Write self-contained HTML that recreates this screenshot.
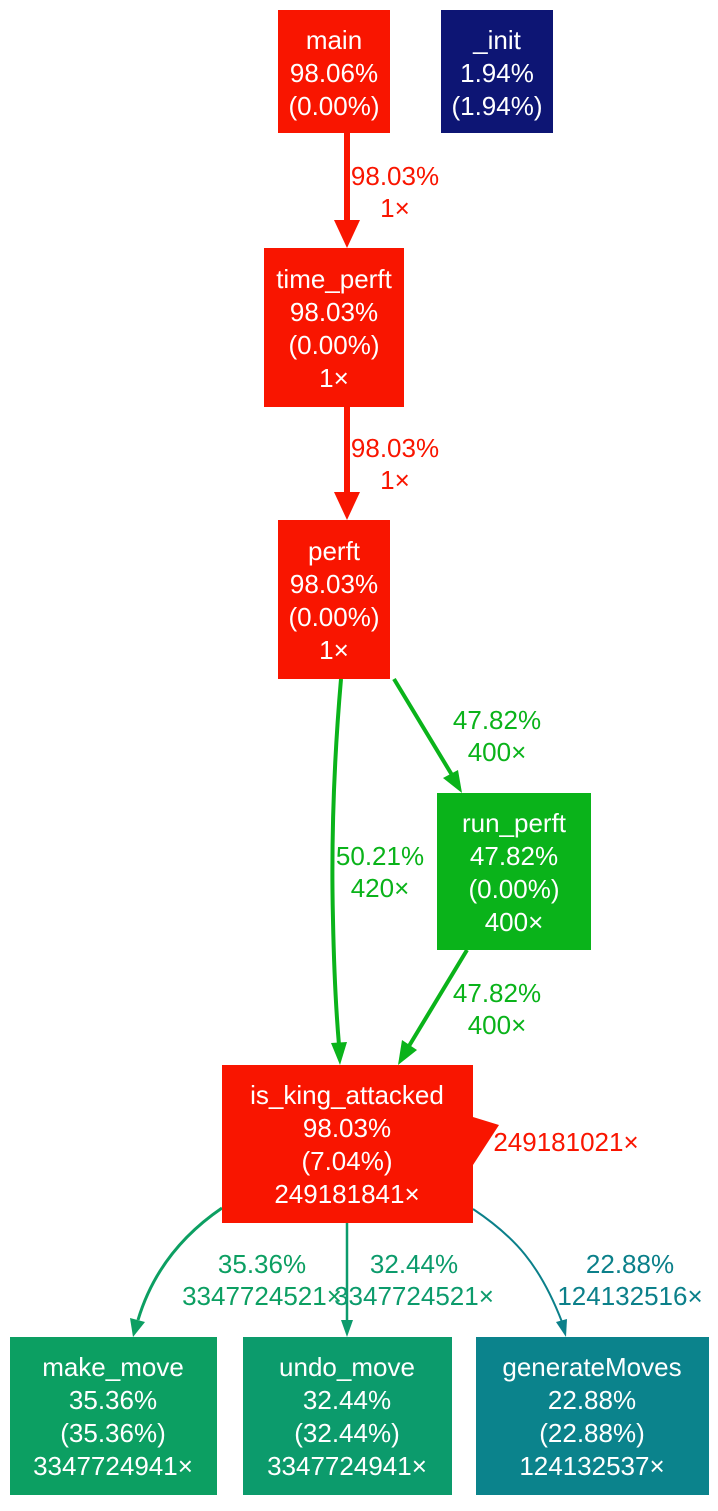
<!DOCTYPE html>
<html><head><style>
body{margin:0;background:#fff;width:718px;height:1506px;overflow:hidden}
svg text{font-family:"Liberation Sans",sans-serif;font-size:26px;text-anchor:middle}
</style></head><body>
<svg width="718" height="1506" xmlns="http://www.w3.org/2000/svg">
<!-- edges -->
<path d="M347,133 L347,222" stroke="#f91500" stroke-width="6" fill="none"/>
<polygon points="334,220 347,248 360,220" fill="#f91500"/>
<text x="395" y="185" fill="#f91500">98.03%</text><text x="395" y="217" fill="#f91500">1×</text>
<path d="M347,407 L347,494" stroke="#f91500" stroke-width="6" fill="none"/>
<polygon points="334,492 347,520 360,492" fill="#f91500"/>
<text x="395" y="457" fill="#f91500">98.03%</text><text x="395" y="489" fill="#f91500">1×</text>
<path d="M341,679 C334,760 331,840 333,920 C334,970 336,1010 339,1045" stroke="#0ab31a" stroke-width="4" fill="none"/>
<polygon points="331,1043 340,1065 347,1042" fill="#0ab31a"/>
<text x="380" y="865" fill="#0ab31a">50.21%</text><text x="380" y="897" fill="#0ab31a">420×</text>
<path d="M394,679 L452,775" stroke="#0ab31a" stroke-width="4" fill="none"/>
<polygon points="443,778 462,793 458,770" fill="#0ab31a"/>
<text x="497" y="729" fill="#0ab31a">47.82%</text><text x="497" y="761" fill="#0ab31a">400×</text>
<path d="M467,950 L409,1046" stroke="#0ab31a" stroke-width="4" fill="none"/>
<polygon points="402,1040 398,1065 417,1050" fill="#0ab31a"/>
<text x="497" y="1002" fill="#0ab31a">47.82%</text><text x="497" y="1034" fill="#0ab31a">400×</text>
<polygon points="473,1117 499,1125 473,1165 473,1117" fill="#f91500"/>
<text x="566" y="1151" fill="#f91500">249181021×</text>
<path d="M222,1208 C175,1240 150,1280 138,1320" stroke="#0c9f62" stroke-width="3" fill="none"/>
<polygon points="130,1318 133,1337 145,1322" fill="#0c9f62"/>
<text x="262" y="1273" fill="#0c9f62">35.36%</text><text x="262" y="1305" fill="#0c9f62">3347724521×</text>
<path d="M347,1223 L347,1320" stroke="#0c9b6c" stroke-width="2.5" fill="none"/>
<polygon points="341,1320 347,1337 353,1320" fill="#0c9b6c"/>
<text x="414" y="1273" fill="#0c9b6c">32.44%</text><text x="414" y="1305" fill="#0c9b6c">3347724521×</text>
<path d="M473,1209 C515,1237 540,1265 562,1322" stroke="#0b808a" stroke-width="2" fill="none"/>
<polygon points="556,1322 566,1337 567,1319" fill="#0b808a"/>
<text x="630" y="1273" fill="#0b808a">22.88%</text><text x="630" y="1305" fill="#0b808a">124132516×</text>
<!-- nodes -->
<g fill="#fff">
<rect x="278" y="10" width="112" height="123" fill="#f91500"/>
<text x="334" y="49">main</text><text x="334" y="82">98.06%</text><text x="334" y="115">(0.00%)</text>
<rect x="441" y="10" width="112" height="123" fill="#0d1574"/>
<text x="497" y="49">_init</text><text x="497" y="82">1.94%</text><text x="497" y="115">(1.94%)</text>
<rect x="264" y="248" width="140" height="159" fill="#f91500"/>
<text x="334" y="288">time_perft</text><text x="334" y="321">98.03%</text><text x="334" y="354">(0.00%)</text><text x="334" y="387">1×</text>
<rect x="278" y="520" width="112" height="159" fill="#f91500"/>
<text x="334" y="560">perft</text><text x="334" y="593">98.03%</text><text x="334" y="626">(0.00%)</text><text x="334" y="659">1×</text>
<rect x="437" y="793" width="154" height="157" fill="#0ab31a"/>
<text x="514" y="832">run_perft</text><text x="514" y="865">47.82%</text><text x="514" y="898">(0.00%)</text><text x="514" y="931">400×</text>
<rect x="222" y="1065" width="251" height="158" fill="#f91500"/>
<text x="347" y="1104">is_king_attacked</text><text x="347" y="1137">98.03%</text><text x="347" y="1170">(7.04%)</text><text x="347" y="1203">249181841×</text>
<rect x="10" y="1337" width="207" height="158" fill="#0c9f62"/>
<text x="113" y="1376">make_move</text><text x="113" y="1409">35.36%</text><text x="113" y="1442">(35.36%)</text><text x="113" y="1475">3347724941×</text>
<rect x="243" y="1337" width="209" height="158" fill="#0c9b6c"/>
<text x="347" y="1376">undo_move</text><text x="347" y="1409">32.44%</text><text x="347" y="1442">(32.44%)</text><text x="347" y="1475">3347724941×</text>
<rect x="476" y="1337" width="233" height="158" fill="#0b838c"/>
<text x="592" y="1376">generateMoves</text><text x="592" y="1409">22.88%</text><text x="592" y="1442">(22.88%)</text><text x="592" y="1475">124132537×</text>
</g>
</svg>
</body></html>
